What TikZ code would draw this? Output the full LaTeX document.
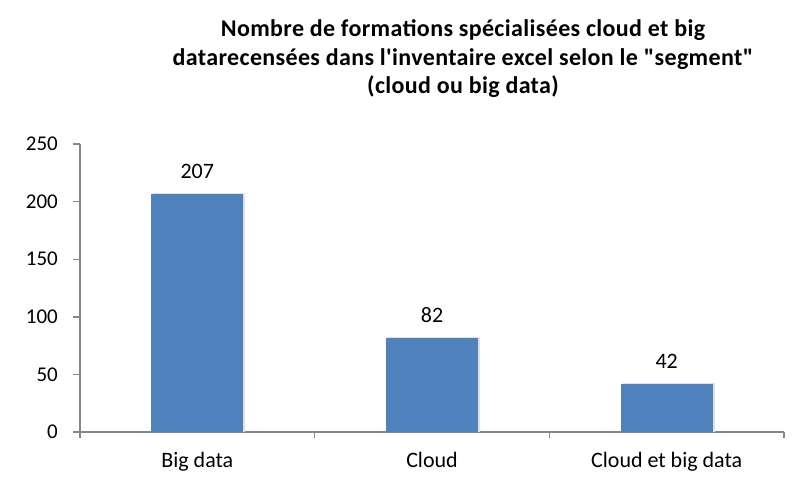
\documentclass[tikz,border=0pt]{standalone}
\usepackage{fontspec}
\setmainfont{Carlito}[Ligatures=TeXOff]
\begin{document}
\begin{tikzpicture}[x=1pt,y=-1pt,
  axisline/.style={draw=black!47,line width=1.4pt},
  bar/.style={fill=barblue,draw=none},
  ticklbl/.style={font=\fontsize{21}{23}\selectfont,anchor=east,inner sep=0pt},
  vallbl/.style={font=\fontsize{22}{24}\selectfont,anchor=base,inner sep=0pt},
  catlbl/.style={font=\fontsize{22}{24}\selectfont,anchor=base,inner sep=0pt},
  titlelbl/.style={font=\bfseries\fontsize{24}{28}\selectfont\addfontfeature{LetterSpace=1.5},anchor=base,inner sep=0pt}]
\definecolor{barblue}{HTML}{4F81BD}
\useasboundingbox (0,0) rectangle (795,477);

% title, three centred lines
\node[titlelbl] (title1) at (463,36.7) {Nombre de formations spécialisées cloud et big};
\node[titlelbl] (title2) at (463,65) {datarecensées dans l'inventaire excel selon le "segment"};
\node[titlelbl] (title3) at (463,93.3) {(cloud ou big data)};

% axes
\coordinate (origin) at (80,432);
\coordinate (ytop) at (80,144);
\coordinate (xend) at (784,432);
\draw[axisline] (ytop) -- (origin) -- (xend);

% y ticks and labels
\foreach \v in {0,50,...,250}{
  \coordinate (yt\v) at (80,{432-1.152*\v});
  \draw[axisline] (yt\v) -- ++(-7,0);
  \node[ticklbl] (yl\v) at ([xshift=-22pt]yt\v) {\v};
}

% category separators on the x axis
\foreach \i/\x in {0/80,1/314.7,2/549.3,3/784}{
  \coordinate (xt\i) at (\x,432);
  \draw[axisline] (xt\i) -- ++(0,6);
}

% bars, values and categories
\foreach \i/\c/\v/\name in {1/197.3/207/Big data,2/432/82/Cloud,3/666.7/42/Cloud et big data}{
  \fill[black!12] (\c-44,432) rectangle (\c+48,{432-1.152*\v-1});
  \path[bar] (\c-46,432) coordinate (b\i) rectangle (\c+46,{432-1.152*\v}) coordinate (t\i);
  \node[vallbl] (v\i) at (\c,{432-1.152*\v-15}) {\v};
  \node[catlbl] (c\i) at (\c,467) {\name};
}
\end{tikzpicture}
\end{document}
